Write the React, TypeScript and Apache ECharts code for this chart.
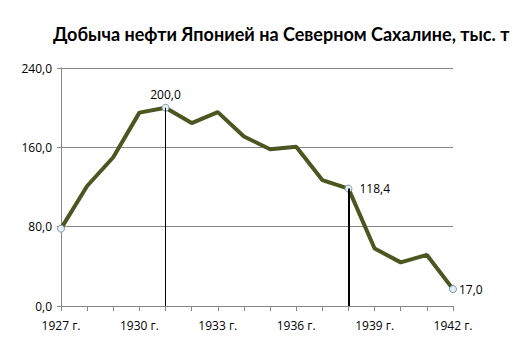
import React, { useEffect, useRef } from "react";
import * as echarts from "echarts";

const titleText = "Добыча нефти Японией на Северном Сахалине, тыс. т";
const years = ["1927 г.", "1928 г.", "1929 г.", "1930 г.", "1931 г.", "1932 г.", "1933 г.", "1934 г.", "1935 г.", "1936 г.", "1937 г.", "1938 г.", "1939 г.", "1940 г.", "1941 г.", "1942 г."];
const production = [78, 121, 150, 195, 200, 184.5, 195.5, 171, 158, 160.5, 127, 118.4, 58, 44, 51.5, 17];
const markedIdx = [0, 4, 11, 15];
const labelPos: Record<number, string> = { 4: "top", 11: "right", 15: "right" };
const dropIdx = [4, 11];
const yTicks = [0, 80, 160, 240];

const fmt = (v: number) => v.toFixed(1).replace(".", ",");

export default function App() {
  const ref = useRef<HTMLDivElement>(null);
  useEffect(() => {
    document.body.style.margin = "0";
    const chart = echarts.init(ref.current!, null, { renderer: "svg" });
    const font = "'Open Sans', sans-serif";
    chart.setOption({
      animation: false,
      backgroundColor: "#ffffff",
      title: {
        text: titleText,
        left: 48,
        top: 20,
        textStyle: { fontFamily: "Lato, sans-serif", fontWeight: "bold", fontSize: 18, color: "#000" },
      },
      grid: { left: 61, right: 72, top: 68, bottom: 45, containLabel: false },
      xAxis: {
        type: "category",
        data: years,
        boundaryGap: false,
        axisLine: { lineStyle: { color: "#868686", width: 1 } },
        axisTick: { show: true, interval: 0, length: 5, lineStyle: { color: "#868686" } },
        axisLabel: {
          interval: (i: number) => i % 3 === 0,
          margin: 13,
          fontFamily: font,
          fontSize: 12,
          color: "#000",
        },
        splitLine: { show: false },
      },
      yAxis: {
        type: "value",
        min: yTicks[0],
        max: yTicks[yTicks.length - 1],
        interval: 80,
        axisLine: { show: true, lineStyle: { color: "#868686", width: 1 } },
        axisTick: { show: true, length: 4, lineStyle: { color: "#868686" } },
        axisLabel: {
          formatter: (v: number) => fmt(v),
          margin: 9,
          fontFamily: font,
          fontSize: 12,
          color: "#000",
        },
        splitLine: { show: true, lineStyle: { color: "#868686", width: 1 } },
      },
      series: [
        {
          type: "line",
          data: production.map((v, i) =>
            markedIdx.includes(i)
              ? {
                  value: v,
                  symbol: "circle",
                  symbolSize: 7,
                  label: {
                    show: i in labelPos,
                    position: labelPos[i] || "top",
                    distance: i === 15 ? 2 : i === 4 ? 3 : 7,
                    formatter: () => fmt(v),
                    fontFamily: font,
                    fontSize: 12,
                    color: "#000",
                  },
                }
              : { value: v, symbol: "none" }
          ),
          lineStyle: { color: "#4b5620", width: 4 },
          itemStyle: { color: "#e4f0f4", borderColor: "#7d97a6", borderWidth: 1 },
          z: 3,
          markLine: {
            silent: true,
            symbol: "none",
            label: { show: false },
            data: dropIdx.map((i) => [
              { coord: [years[i], production[i]], lineStyle: { color: "#000", width: i === 11 ? 2 : 1, type: "solid" } },
              { coord: [years[i], 0] },
            ]),
          },
        },
      ],
    });
    return () => chart.dispose();
  }, []);
  return <div ref={ref} style={{ width: 525, height: 351 }} />;
}
